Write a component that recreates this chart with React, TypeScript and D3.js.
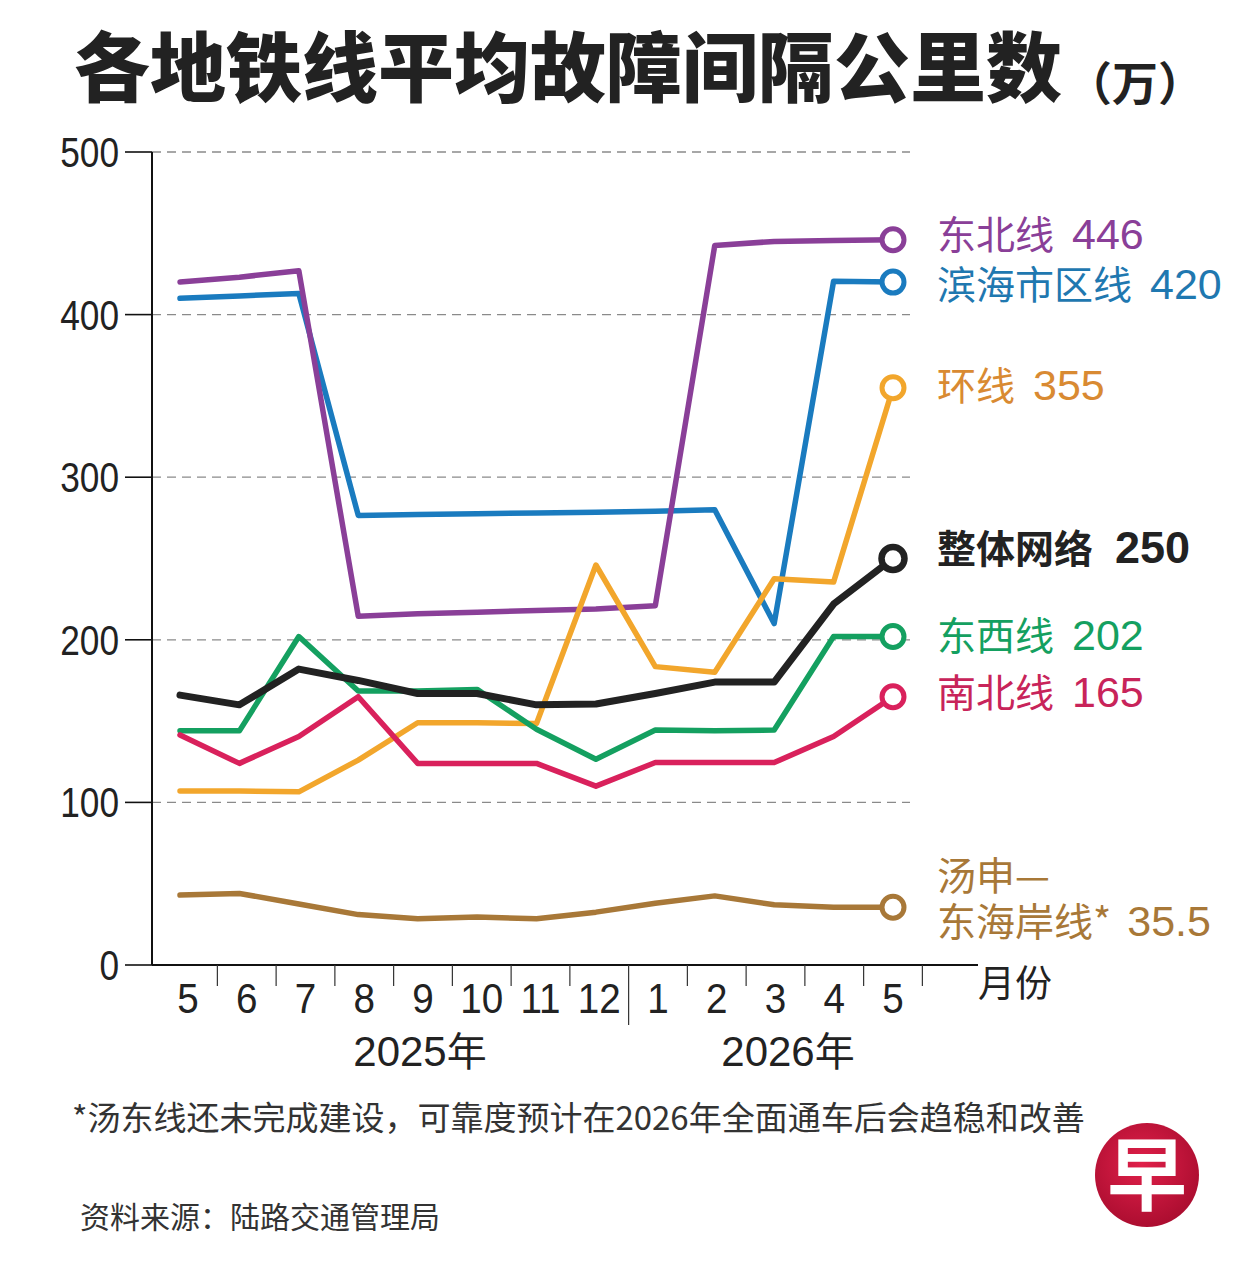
import React from "react";
import * as d3 from "d3";

const months = ["5", "6", "7", "8", "9", "10", "11", "12", "1", "2", "3", "4", "5"];
const yTicks = [0, 100, 200, 300, 400, 500];
const gridTicks = [100, 200, 300, 400, 500];

const neLine = [420, 423, 427, 214.5, 216, 217, 218, 219, 221, 442.5, 445, 445.5, 446];
const dtLine = [410, 411.5, 413, 276.5, 277, 277.5, 278, 278.5, 279, 280, 210, 420.5, 420];
const ccLine = [107, 107, 106.5, 126, 149, 149, 148.5, 246, 183.5, 180, 237.5, 235.5, 355];
const network = [166, 160, 182, 175, 167, 167, 160, 160.5, 167, 174, 174, 222, 250];
const ewLine = [144, 144, 202, 168.5, 168.5, 169.5, 145, 126.5, 144.5, 144, 144.5, 202, 202];
const nsLine = [141.5, 124, 140.5, 165, 124, 124, 124, 110, 124.5, 124.5, 124.5, 140.5, 165];
const teLine = [43, 44, 37.5, 31, 28.5, 29.5, 28.5, 32.5, 38, 42.5, 37, 35.5, 35.5];

const series = [
  { name: "滨海市区线", values: dtLine, color: "#1a7bbf", text: "#1f78b0", label: "滨海市区线", value: "420", ly: 299, w: 5.5, bold: false },
  { name: "东北线", values: neLine, color: "#8a3f98", text: "#8a3f98", label: "东北线", value: "446", ly: 249, w: 5.5, bold: false },
  { name: "环线", values: ccLine, color: "#f2a62c", text: "#d98a32", label: "环线", value: "355", ly: 400, w: 5.5, bold: false },
  { name: "东西线", values: ewLine, color: "#14a060", text: "#14a060", label: "东西线", value: "202", ly: 650, w: 5.5, bold: false },
  { name: "南北线", values: nsLine, color: "#d9215c", text: "#c8245a", label: "南北线", value: "165", ly: 707, w: 5.5, bold: false },
  { name: "整体网络", values: network, color: "#222222", text: "#222222", label: "整体网络", value: "250", ly: 563, w: 7, bold: true },
  { name: "汤申—东海岸线", values: teLine, color: "#a87838", text: "#a87838", label: "", value: "", ly: 0, w: 5.5, bold: false },
];

const CJK = "'Noto Sans CJK SC', 'Noto Sans', sans-serif";
const SANS = "'Liberation Sans', Arial, sans-serif";

export default function App() {
  const W = 1251;
  const H = 1278;
  const idx = months.map((_, i) => i);
  const x = d3.scalePoint<number>().domain(idx).range([180, 893]);
  const xl = d3.scalePoint<number>().domain(idx).range([188, 893]);
  const step = xl.step();
  const y = d3.scaleLinear().domain([0, 500]).range([965, 152]);
  const line = d3
    .line<number>()
    .x((_, i) => x(i) as number)
    .y((d) => y(d))
    .curve(d3.curveLinear);

  const x0 = 152;
  const axisEnd = 978;

  return (
    <svg
      width={W}
      height={H}
      viewBox={`0 0 ${W} ${H}`}
      style={{ position: "absolute", left: 0, top: 0, background: "#fff" }}
    >
      <rect x={0} y={0} width={W} height={H} fill="#fff" />
      {/* Title */}
      <text x={74} y={96} fontFamily={CJK} fontWeight={900} fontSize={76} fill="#222">
        各地铁线平均故障间隔公里数
      </text>
      <text x={1066} y={100} fontFamily={CJK} fontWeight={700} fontSize={46} fill="#222">
        （万）
      </text>

      {/* gridlines */}
      {gridTicks.map((t) => (
        <line key={"g" + t} x1={x0} x2={910} y1={y(t)} y2={y(t)} stroke="#8a8a8a" strokeWidth={1.3} strokeDasharray="9 6" />
      ))}
      {/* y axis */}
      <line x1={x0} x2={x0} y1={y(500)} y2={y(0)} stroke="#111" strokeWidth={2} />
      {yTicks.map((t) => (
        <g key={"y" + t}>
          <line x1={125} x2={x0} y1={y(t)} y2={y(t)} stroke="#111" strokeWidth={1.6} />
          <text
            transform={`translate(119,${y(t) + 15}) scale(0.84,1)`}
            textAnchor="end"
            fontFamily={SANS}
            fontSize={42}
            fill="#222"
          >
            {t}
          </text>
        </g>
      ))}
      {/* x axis */}
      <line x1={x0} x2={axisEnd} y1={y(0)} y2={y(0)} stroke="#111" strokeWidth={2} />
      {idx.map((i) => {
        const tx = (xl(i) as number) + step / 2;
        const long = i === 7;
        return <line key={"t" + i} x1={tx} x2={tx} y1={y(0)} y2={y(0) + (long ? 60 : 21)} stroke="#333" strokeWidth={1.2} />;
      })}
      {months.map((m, i) => (
        <text
          key={"m" + i}
          transform={`translate(${xl(i) as number},1013) scale(0.92,1)`}
          textAnchor="middle"
          fontFamily={SANS}
          fontSize={42}
          fill="#222"
        >
          {m}
        </text>
      ))}
      <text x={420} y={1066} textAnchor="middle" fontFamily={SANS} fontSize={42} fill="#222">
        2025<tspan fontFamily={CJK} fontSize={40}>年</tspan>
      </text>
      <text x={788} y={1066} textAnchor="middle" fontFamily={SANS} fontSize={42} fill="#222">
        2026<tspan fontFamily={CJK} fontSize={40}>年</tspan>
      </text>
      <text x={978} y={997} fontFamily={CJK} fontSize={37} fill="#222">
        月份
      </text>

      {/* lines */}
      {series.map((s) => (
        <path
          key={s.name}
          d={line(s.values) as string}
          fill="none"
          stroke={s.color}
          strokeWidth={s.w}
          strokeLinejoin="round"
          strokeLinecap="round"
        />
      ))}
      {/* end circles */}
      {series.map((s) => {
        const last = s.values.length - 1;
        return (
          <circle
            key={"c" + s.name}
            cx={x(last) as number}
            cy={y(s.values[last])}
            r={s.bold ? 11.5 : 11}
            fill="#fff"
            stroke={s.color}
            strokeWidth={s.bold ? 6.5 : 5}
          />
        );
      })}
      {/* labels */}
      {series
        .filter((s) => s.label)
        .map((s) => (
          <text
            key={"l" + s.name}
            x={937}
            y={s.ly}
            fontFamily={CJK}
            fontSize={39}
            fontWeight={s.bold ? 700 : 400}
            fill={s.text}
          >
            {s.label}
            <tspan dx={s.bold ? 22 : 18} fontFamily={SANS} fontSize={s.bold ? 45 : 43}>
              {s.value}
            </tspan>
          </text>
        ))}
      <text x={937} y={890} fontFamily={CJK} fontSize={39} fill="#a87838">
        汤申—
      </text>
      <text x={937} y={936} fontFamily={CJK} fontSize={39} fill="#a87838">
        东海岸线*
        <tspan dx={16} fontFamily={SANS} fontSize={43}>
          35.5
        </tspan>
      </text>

      {/* footnotes */}
      <text x={72} y={1130} fontFamily={CJK} fontSize={33} fill="#333">
        *汤东线还未完成建设，可靠度预计在2026年全面通车后会趋稳和改善
      </text>
      <text x={80} y={1228} fontFamily={CJK} fontSize={30} fill="#333">
        资料来源：陆路交通管理局
      </text>

      {/* logo */}
      <defs>
        <radialGradient id="logoGrad" cx="45%" cy="40%" r="65%">
          <stop offset="0%" stopColor="#e0204a" />
          <stop offset="100%" stopColor="#a80c2e" />
        </radialGradient>
      </defs>
      <circle cx={1147} cy={1175} r={52} fill="url(#logoGrad)" />
      <text x={1147} y={1204} textAnchor="middle" fontFamily={CJK} fontWeight={700} fontSize={80} fill="#fff">
        早
      </text>
    </svg>
  );
}
